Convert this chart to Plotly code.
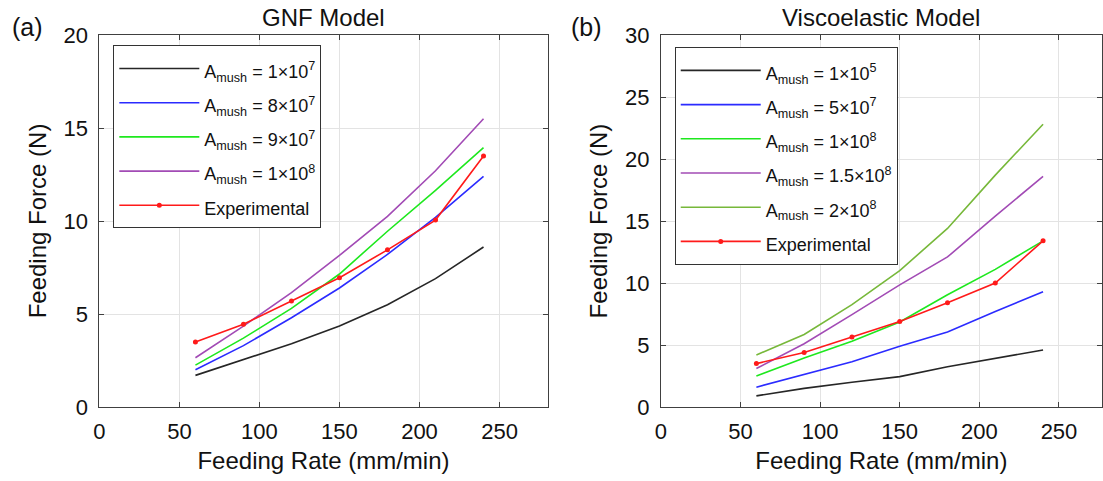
import plotly.graph_objects as go

# ---- data ----
feed_rate = [60, 90, 120, 150, 180, 210, 240]

gnf_names = ["A<sub>mush</sub> = 1×10<sup>7</sup>", "A<sub>mush</sub> = 8×10<sup>7</sup>",
             "A<sub>mush</sub> = 9×10<sup>7</sup>", "A<sub>mush</sub> = 1×10<sup>8</sup>"]
gnf_1e7 = [1.7, 2.55, 3.4, 4.35, 5.5, 6.9, 8.6]
gnf_8e7 = [2.0, 3.3, 4.8, 6.4, 8.2, 10.2, 12.4]
gnf_9e7 = [2.25, 3.7, 5.3, 7.15, 9.45, 11.65, 13.95]
gnf_1e8 = [2.65, 4.35, 6.15, 8.15, 10.25, 12.7, 15.5]
gnf_exp = [3.5, 4.45, 5.7, 6.95, 8.45, 10.05, 13.5]

visco_names = ["A<sub>mush</sub> = 1×10<sup>5</sup>", "A<sub>mush</sub> = 5×10<sup>7</sup>",
               "A<sub>mush</sub> = 1×10<sup>8</sup>", "A<sub>mush</sub> = 1.5×10<sup>8</sup>",
               "A<sub>mush</sub> = 2×10<sup>8</sup>"]
visco_1e5 = [0.9, 1.5, 2.0, 2.45, 3.25, 3.9, 4.6]
visco_5e7 = [1.6, 2.6, 3.65, 4.9, 6.05, 7.7, 9.3]
visco_1e8 = [2.5, 3.95, 5.3, 6.85, 9.05, 11.1, 13.4]
visco_15e8 = [3.1, 5.1, 7.45, 9.85, 12.1, 15.4, 18.6]
visco_2e8 = [4.2, 5.85, 8.25, 11.0, 14.4, 18.7, 22.8]
visco_exp = [3.5, 4.4, 5.65, 6.9, 8.4, 10.0, 13.4]

x_ticks = [0, 50, 100, 150, 200, 250]
gnf_yticks = [0, 5, 10, 15, 20]
visco_yticks = [0, 5, 10, 15, 20, 25, 30]

FONT = "Liberation Sans, Arial, sans-serif"
AX = "#404040"


def lg(name):
    return '<span style="font-size:18px">' + name + '</span>'


fig = go.Figure()

gnf_colors = ["#262626", "#2b2bff", "#1ee81e", "#a24bb5"]
for name, ys, c in zip(gnf_names, [gnf_1e7, gnf_8e7, gnf_9e7, gnf_1e8], gnf_colors):
    fig.add_trace(go.Scatter(x=feed_rate, y=ys, mode="lines", name=lg(name),
                             line=dict(color=c, width=1.6), xaxis="x", yaxis="y", legend="legend"))
fig.add_trace(go.Scatter(x=feed_rate, y=gnf_exp, mode="lines+markers", name=lg("Experimental"),
                         line=dict(color="#ff1a1a", width=1.6), marker=dict(size=5, color="#ff1a1a"),
                         xaxis="x", yaxis="y", legend="legend"))

visco_colors = ["#262626", "#2b2bff", "#1ee81e", "#a24bb5", "#77b83a"]
for name, ys, c in zip(visco_names, [visco_1e5, visco_5e7, visco_1e8, visco_15e8, visco_2e8], visco_colors):
    fig.add_trace(go.Scatter(x=feed_rate, y=ys, mode="lines", name=lg(name),
                             line=dict(color=c, width=1.6), xaxis="x2", yaxis="y2", legend="legend2"))
fig.add_trace(go.Scatter(x=feed_rate, y=visco_exp, mode="lines+markers", name=lg("Experimental"),
                         line=dict(color="#ff1a1a", width=1.6), marker=dict(size=5, color="#ff1a1a"),
                         xaxis="x2", yaxis="y2", legend="legend2"))

W, H = 1103, 481
common_x = dict(tickvals=x_ticks, ticks="inside", ticklen=5, tickcolor=AX, showline=True, linecolor=AX,
                linewidth=1, mirror="ticks", showgrid=True, gridcolor="#e3e3e3", zeroline=False,
                tickfont=dict(family=FONT, size=22, color="#111"), ticklabelstandoff=5,
                title=dict(text="Feeding Rate (mm/min)", font=dict(family=FONT, size=24, color="#111"), standoff=8))
common_y = dict(ticks="inside", ticklen=5, tickcolor=AX, showline=True, linecolor=AX,
                linewidth=1, mirror="ticks", showgrid=True, gridcolor="#e3e3e3", zeroline=False,
                tickfont=dict(family=FONT, size=22, color="#111"), ticklabelstandoff=6,
                title=dict(text="Feeding Force (N)", font=dict(family=FONT, size=24, color="#111"), standoff=10),
                domain=[0, 1])

legend_common = dict(bgcolor="white", bordercolor="#333", borderwidth=1,
                     font=dict(family=FONT, size=24, color="#111"), xanchor="left", yanchor="top",
                     tracegroupgap=0, itemwidth=80)

fig.update_layout(
    width=W, height=H,
    margin=dict(l=0, r=0, t=35, b=74),
    plot_bgcolor="white", paper_bgcolor="white",
    font=dict(family=FONT, color="#111"),
    xaxis=dict(common_x, domain=[94 / W, 545 / W], range=[0, 280], anchor="y"),
    yaxis=dict(common_y, range=[0, 20], tickvals=gnf_yticks, anchor="x"),
    xaxis2=dict(common_x, domain=[659 / W, 1.0], range=[0, 277], anchor="y2"),
    yaxis2=dict(common_y, range=[0, 30], tickvals=visco_yticks, anchor="x2"),
    legend=dict(legend_common, x=108 / W, y=0.972),
    legend2=dict(legend_common, x=673 / W, y=0.967),
    showlegend=True,
    annotations=[
        dict(text="GNF Model", x=319.5 / W, y=1.0, xref="paper", yref="paper", xanchor="center",
             yanchor="bottom", yshift=2, showarrow=False, font=dict(family=FONT, size=24, color="#111")),
        dict(text="Viscoelastic Model", x=881 / W, y=1.0, xref="paper", yref="paper", xanchor="center",
             yanchor="bottom", yshift=2, showarrow=False, font=dict(family=FONT, size=24, color="#111")),
        dict(text="(a)", x=4 / W, y=1.0, xref="paper", yref="paper", xanchor="left",
             yanchor="bottom", yshift=-8, showarrow=False, font=dict(family=FONT, size=25, color="#111")),
        dict(text="(b)", x=567 / W, y=1.0, xref="paper", yref="paper", xanchor="left",
             yanchor="bottom", yshift=-8, showarrow=False, font=dict(family=FONT, size=25, color="#111")),
    ],
)

fig.write_html("out.html")
